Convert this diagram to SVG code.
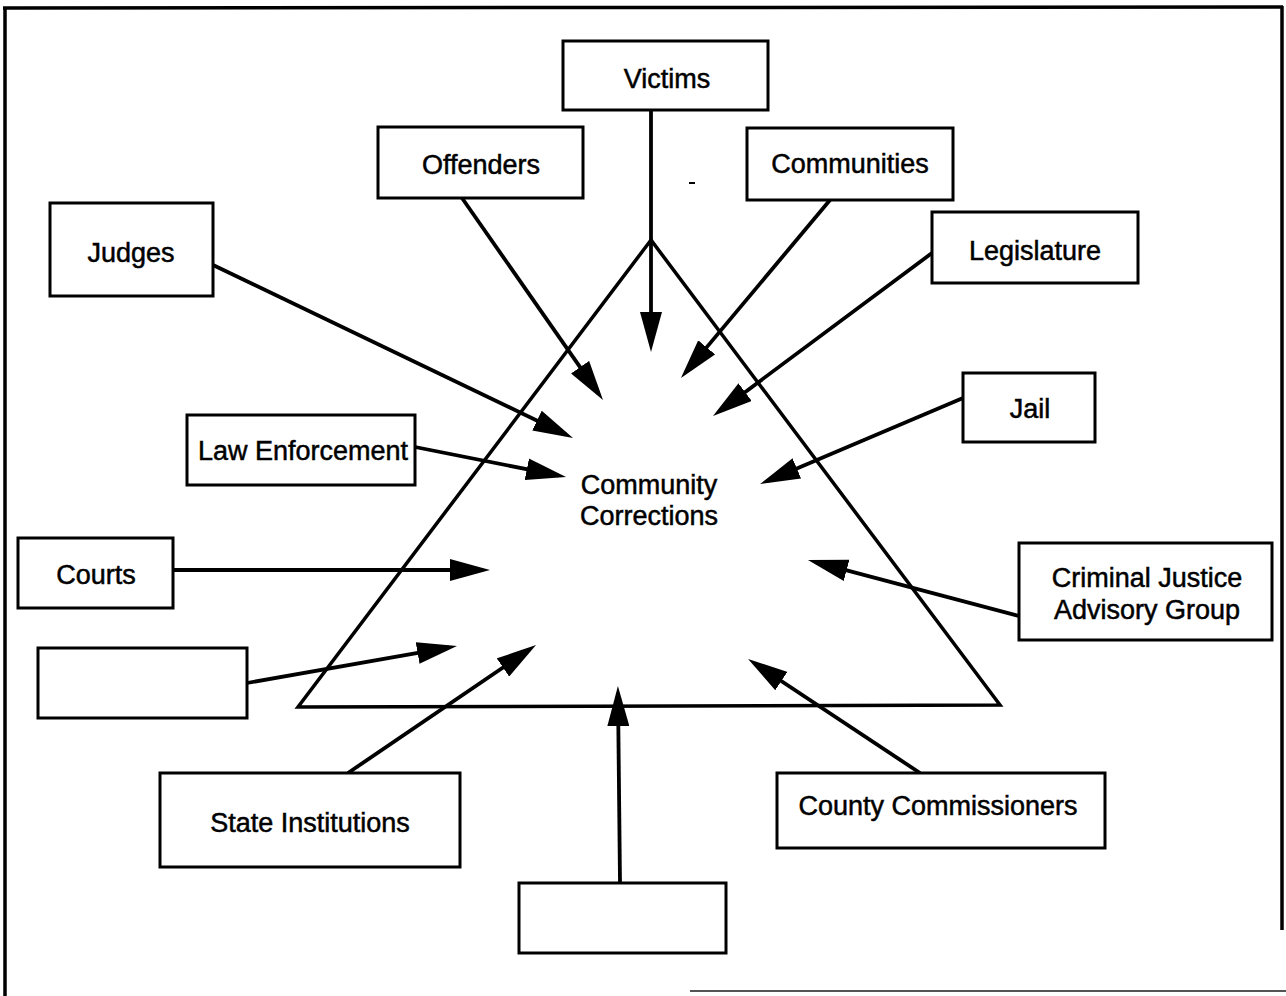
<svg xmlns="http://www.w3.org/2000/svg" width="1286" height="996" viewBox="0 0 1286 996">
<defs>
<style>
.box{fill:#fff;stroke:#000;stroke-width:3}
.lbl{font-family:"Liberation Sans",Arial,sans-serif;font-size:27px;fill:#000;text-anchor:middle;stroke:#000;stroke-width:0.5}
.conn{stroke:#000;stroke-width:3.8;fill:none;marker-end:url(#ah)}
.frame{stroke:#000;stroke-width:3.5;fill:none}
</style>
<marker id="ah" markerUnits="userSpaceOnUse" markerWidth="40" markerHeight="22" viewBox="0 0 40 22" refX="32" refY="11" orient="auto">
<path d="M0,0 L40,11 L0,22 z" fill="#000"/>
</marker>
</defs>
<rect width="1286" height="996" fill="#fff"/>
<g id="frame">
<line class="frame" x1="3" y1="8" x2="1283" y2="7"/>
<line class="frame" x1="5" y1="7" x2="5" y2="996" stroke-width="3"/>
<line class="frame" x1="1282" y1="6" x2="1282" y2="930" stroke-width="2.5"/>
<line x1="690" y1="991" x2="1286" y2="991" stroke="#555" stroke-width="2"/>
</g>
<g id="triangle">
<polygon points="651,240 298,707 1000,705" fill="none" stroke="#000" stroke-width="3.5" stroke-linejoin="miter"/>
</g>
<g id="connectors">
<line class="conn" x1="651" y1="110" x2="651" y2="344"/>
<line class="conn" x1="462" y1="198" x2="598.4" y2="393.4"/>
<line class="conn" x1="830" y1="200" x2="686.1" y2="371.9"/>
<line class="conn" x1="932" y1="253" x2="719.4" y2="411.2"/>
<line class="conn" x1="213" y1="265" x2="565.8" y2="434.5"/>
<line class="conn" x1="415" y1="447" x2="558.2" y2="475.4"/>
<line class="conn" x1="963" y1="398" x2="767.4" y2="480.9"/>
<line class="conn" x1="173" y1="570" x2="482" y2="570"/>
<line class="conn" x1="247" y1="683" x2="449.1" y2="647.4"/>
<line class="conn" x1="348" y1="773" x2="529.4" y2="649.5"/>
<line class="conn" x1="620" y1="883" x2="618" y2="694"/>
<line class="conn" x1="920" y1="773" x2="754.7" y2="663.4"/>
<line class="conn" x1="1019" y1="616" x2="815.7" y2="562.1"/>
</g>
<g id="center">
<text class="lbl" x="649" y="494">Community</text>
<text class="lbl" x="649" y="525">Corrections</text>
</g>
<g id="victims"><rect class="box" x="563" y="41" width="205" height="69"/><text class="lbl" x="667" y="88">Victims</text></g>
<g id="offenders"><rect class="box" x="378" y="127" width="205" height="71"/><text class="lbl" x="481" y="174">Offenders</text></g>
<g id="communities"><rect class="box" x="747" y="128" width="206" height="72"/><text class="lbl" x="850" y="173">Communities</text></g>
<g id="legislature"><rect class="box" x="932" y="212" width="206" height="71"/><text class="lbl" x="1035" y="260">Legislature</text></g>
<g id="judges"><rect class="box" x="50" y="203" width="163" height="93"/><text class="lbl" x="131" y="262">Judges</text></g>
<g id="law-enforcement"><rect class="box" x="187" y="415" width="228" height="70"/><text class="lbl" x="303" y="460">Law Enforcement</text></g>
<g id="jail"><rect class="box" x="963" y="373" width="132" height="69"/><text class="lbl" x="1030" y="418">Jail</text></g>
<g id="courts"><rect class="box" x="18" y="538" width="155" height="70"/><text class="lbl" x="96" y="584">Courts</text></g>
<g id="cjag"><rect class="box" x="1019" y="543" width="253" height="97"/><text class="lbl" x="1147" y="587">Criminal Justice</text><text class="lbl" x="1147" y="619">Advisory Group</text></g>
<g id="blank-left"><rect class="box" x="38" y="648" width="209" height="70"/></g>
<g id="state-institutions"><rect class="box" x="160" y="773" width="300" height="94"/><text class="lbl" x="310" y="832">State Institutions</text></g>
<g id="county-commissioners"><rect class="box" x="777" y="773" width="328" height="75"/><text class="lbl" x="938" y="815">County Commissioners</text></g>
<g id="blank-bottom"><rect class="box" x="519" y="883" width="207" height="70"/></g>
<g id="mark"><rect x="689" y="182" width="6" height="2" fill="#000"/></g>
</svg>
